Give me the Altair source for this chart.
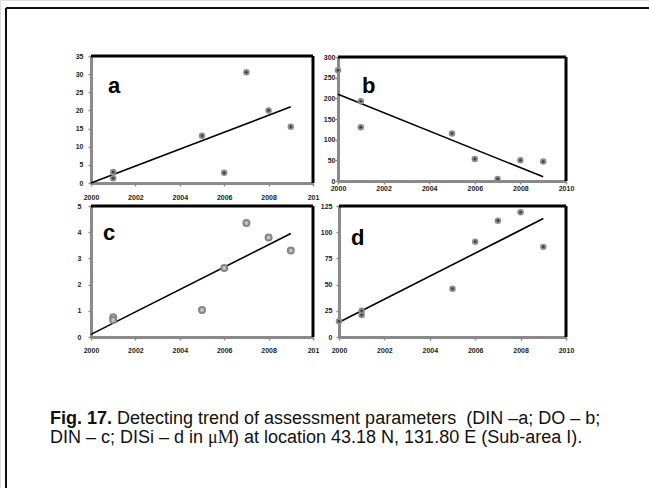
import altair as alt
import pandas as pd

W, H = 649, 488

# Observations and fitted trends (concentrations in µM)
years_a = [2001, 2001, 2005, 2006, 2007, 2008, 2009]
din_a = [3.0, 1.3, 13.0, 2.8, 30.5, 20.0, 15.5]
trend_a = [0.0, 21.0]

years_b = [2000, 2001, 2001, 2005, 2006, 2007, 2008, 2009]
do_b = [268, 193, 130, 115, 53, 5, 50, 47]
trend_b = [210, 10]

years_c = [2001, 2001, 2005, 2006, 2007, 2008, 2009]
din_c = [0.75, 0.65, 1.03, 2.63, 4.35, 3.8, 3.3]
trend_c = [0.1, 3.95]

years_d = [2000, 2001, 2001, 2005, 2006, 2007, 2008, 2009]
disi_d = [15, 25, 21, 46, 91, 111, 119, 86]
trend_d = [14, 113]

trend_years = [2000, 2009]
x_ticks = [2000, 2002, 2004, 2006, 2008, 2010]
y_ticks_a = [0, 5, 10, 15, 20, 25, 30, 35]
y_ticks_b = [0, 50, 100, 150, 200, 250, 300]
y_ticks_c = [0, 1, 2, 3, 4, 5]
y_ticks_d = [0, 25, 50, 75, 100, 125]

caption_head = "Fig. 17."
caption_1 = "Detecting trend of assessment parameters\u00a0\u00a0(DIN \u2013a; DO \u2013 b;"
caption_2a = "DIN \u2013 c; DISi \u2013 d in"
caption_2b = "\u03bcM"
caption_2c = ") at location 43.18 N, 131.80 E (Sub-area I)."

GREY = "#8a8a8a"
FONT = "Liberation Sans"


def panel(letter, letter_at, years, vals, tvals, y_ticks, xr, yr,
          pad_x, pad_y, clip_last=False, ring=False):
    ymax = y_ticks[-1]
    xs = alt.Scale(domain=[2000, 2010], range=xr, nice=False, zero=False)
    ys = alt.Scale(domain=[0, ymax], range=yr, nice=False, zero=False)
    xkw = dict(orient="bottom", offset=yr[0] - H, values=x_ticks, format="d",
               title="", grid=False, domainColor=GREY, domainWidth=3,
               tickColor=GREY, tickSize=3, tickWidth=1.5,
               labelFont=FONT, labelFontSize=7, labelFontWeight="bold",
               labelColor="#222", labelPadding=pad_x, labelFlush=False,
               labelOverlap=False)
    if clip_last:
        xkw["labelExpr"] = "datum.value == 2010 ? '201' : datum.label"
    xa = alt.Axis(**xkw)
    ya = alt.Axis(orient="left", offset=-xr[0], values=y_ticks, format="d",
                  title="", grid=False, domainColor=GREY, domainWidth=3,
                  tickColor=GREY, tickSize=3, tickWidth=1.5,
                  labelFont=FONT, labelFontSize=7, labelFontWeight="bold",
                  labelColor="#222", labelPadding=pad_y, labelFlush=False,
                  labelOverlap=False)

    def X(f):
        return alt.X(f, type="quantitative", scale=xs, axis=xa)

    def Y(f):
        return alt.Y(f, type="quantitative", scale=ys, axis=ya)

    obs = pd.DataFrame({"year": years, "value": vals})
    trend = pd.DataFrame({"year": trend_years, "value": tvals})
    frame = pd.DataFrame({"year": [2000, 2010], "year2": [2010, 2010],
                          "value": [ymax, 0], "value2": [ymax, ymax]})
    tag = pd.DataFrame({"year": [letter_at[0]], "value": [letter_at[1]],
                        "label": [letter]})

    border = alt.Chart(frame).mark_rule(color="#000", strokeWidth=3).encode(
        x=X("year"), x2="year2", y=Y("value"), y2="value2")
    line = alt.Chart(trend).mark_line(color="#000", strokeWidth=1.6).encode(
        x=X("year"), y=Y("value"))
    if ring:
        dots = alt.Chart(obs).mark_point(
            shape="circle", size=36, filled=True, fill="#c4c4c4",
            stroke="#858585", strokeWidth=2, opacity=1).encode(
            x=X("year"), y=Y("value"))
    else:
        outer = alt.Chart(obs).mark_circle(size=42, color="#8c8c8c", opacity=1).encode(
            x=X("year"), y=Y("value"))
        inner = alt.Chart(obs).mark_circle(size=7, color="#3c3c3c", opacity=1).encode(
            x=X("year"), y=Y("value"))
        dots = alt.layer(outer, inner)
    text = alt.Chart(tag).mark_text(
        align="left", baseline="alphabetic", font=FONT, fontSize=22,
        fontWeight="bold", color="#000").encode(
        x=X("year"), y=Y("value"), text="label:N")
    return alt.layer(border, line, dots, text)


pa = panel("a", (2000.77, 24.8), years_a, din_a, trend_a, y_ticks_a,
           [91, 313], [183, 56], 7, 5, clip_last=True)
pb = panel("b", (2001.05, 213), years_b, do_b, trend_b, y_ticks_b,
           [338, 566], [181, 57], 0, 0)
pc = panel("c", (2000.54, 3.70), years_c, din_c, trend_c, y_ticks_c,
           [91, 313], [337, 206], 6, 7, clip_last=True, ring=True)
pd_ = panel("d", (2000.53, 87.8), years_d, disi_d, trend_d, y_ticks_d,
            [339, 566], [337, 206], 6, 4)

one = pd.DataFrame({"k": [0]})

# Page frame (left and top edges)
page_left = alt.Chart(one).mark_rule(color="#111", strokeWidth=2).encode(
    x=alt.value(6), y=alt.value(8), y2=alt.value(H))
page_top = alt.Chart(one).mark_rule(color="#111", strokeWidth=2).encode(
    x=alt.value(6), x2=alt.value(W), y=alt.value(8))

cap_style = dict(align="left", baseline="alphabetic", fontSize=18, color="#111")


def cap(text, x, y, font=FONT, weight="normal"):
    return alt.Chart(one).mark_text(font=font, fontWeight=weight, **cap_style).encode(
        x=alt.value(x), y=alt.value(y), text=alt.value(text))


caption_layers = [
    cap(caption_head, 50, 424, weight="bold"),
    cap(caption_1, 117, 424),
    cap(caption_2a, 50, 443),
    cap(caption_2b, 208, 443, font="Liberation Serif"),
    cap(caption_2c, 233, 443),
]

chart = alt.layer(
    pa, pb, pc, pd_, page_left, page_top, *caption_layers
).resolve_scale(
    x="independent", y="independent"
).resolve_axis(
    x="independent", y="independent"
).properties(
    width=W, height=H, padding=0,
    autosize=alt.AutoSizeParams(type="none"),
).configure_view(stroke=None).configure(background="white")

chart.save("out.html", embed_options={"renderer": "svg", "actions": False})
